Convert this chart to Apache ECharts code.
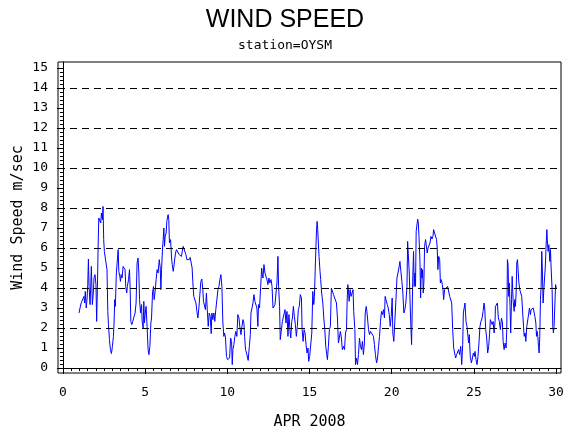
<!DOCTYPE html>
<html>
<head>
<meta charset="utf-8">
<script src="https://cdn.jsdelivr.net/npm/echarts@6/dist/echarts.min.js"></script>
<style>
html, body { margin: 0; padding: 0; background: #fff; }
#J_wind { width: 570px; height: 430px; }
</style>
</head>
<body>
<div id="J_wind"></div>
<script>
'use strict';

// [day of April, wind speed m/s]
var windApr1to7 = [
  [0.98,2.75],[1.04,3.0],[1.12,3.28],[1.22,3.33],[1.28,3.58],[1.32,3.25],[1.36,3.83],[1.42,3.0],[1.47,3.5],[1.51,4.17],
  [1.55,5.45],[1.59,4.08],[1.65,3.17],[1.69,4.08],[1.73,5.08],[1.79,3.17],[1.85,3.75],[1.89,4.5],[1.95,4.67],[2.01,4.17],
  [2.05,2.33],[2.10,4.08],[2.14,6.0],[2.18,7.5],[2.24,7.5],[2.30,7.25],[2.34,7.75],[2.40,7.42],[2.44,8.08],[2.48,6.42],
  [2.52,5.83],[2.58,5.75],[2.64,5.92],[2.68,4.92],[2.73,2.83],[2.77,2.17],[2.83,1.42],[2.89,0.92],[2.95,0.72],[3.01,1.08],
  [3.07,1.58],[3.11,2.25],[3.15,3.42],[3.19,3.08],[3.25,4.75],[3.32,5.5],[3.36,5.92],[3.40,4.83],[3.46,4.58],[3.50,4.33],
  [3.54,4.67],[3.60,4.5],[3.66,5.08],[3.72,5.17],[3.78,4.92],[3.82,4.08],[3.88,3.75],[3.92,4.08],[3.99,4.42],[4.05,4.92],
  [4.09,3.92],[4.13,2.33],[4.19,2.17],[4.25,2.33],[4.33,2.58],[4.39,2.75],[4.45,3.25],[4.51,5.25],[4.57,5.5],[4.62,4.75],
  [4.66,3.42],[4.72,2.75],[4.78,3.17],[4.82,2.33],[4.88,2.0],[4.92,3.33],[4.96,2.25],[5.00,2.67],[5.06,3.08],[5.12,2.08],
  [5.18,0.92],[5.23,0.67],[5.29,1.08],[5.35,2.25],[5.39,2.5],[5.45,3.75],[5.51,4.08],[5.55,3.42],[5.61,3.83],[5.67,4.42],
  [5.73,4.92],[5.79,4.75],[5.86,5.42],[5.92,5.0],[5.96,3.92],[6.00,4.92],[6.06,6.0],[6.10,6.42],[6.14,7.0],[6.18,6.08],
  [6.22,6.58],[6.28,6.75],[6.32,7.33],[6.36,7.42],[6.40,7.67],[6.44,7.42],[6.48,6.25],[6.55,6.42],[6.61,5.5],[6.65,5.17],
  [6.71,4.83],[6.75,5.08],[6.81,5.5],[6.85,5.75],[6.91,5.92],[6.97,6.0],[7.01,6.0],[7.07,5.67]
];
var windApr7to13 = [
  [7.11,5.63],[7.21,5.58],[7.31,6.08],[7.37,5.95],[7.44,5.92],[7.48,5.67],[7.54,5.42],[7.60,5.5],[7.68,5.42],[7.74,5.53],
  [7.80,5.62],[7.86,5.0],[7.90,4.33],[7.96,3.58],[8.02,3.67],[8.09,3.25],[8.15,2.83],[8.21,2.5],[8.27,3.0],[8.33,3.08],
  [8.39,4.33],[8.45,4.45],[8.51,3.92],[8.55,3.33],[8.61,3.42],[8.67,2.92],[8.73,3.75],[8.78,2.92],[8.84,2.08],[8.90,2.75],
  [8.96,2.58],[9.02,1.72],[9.06,2.75],[9.12,2.42],[9.18,2.75],[9.24,2.33],[9.30,2.92],[9.36,2.83],[9.43,3.92],[9.49,4.08],
  [9.55,4.42],[9.61,4.67],[9.67,4.08],[9.73,2.25],[9.79,1.58],[9.83,1.75],[9.89,1.5],[9.95,0.58],[10.01,0.42],[10.08,0.5],
  [10.14,0.5],[10.20,1.5],[10.26,1.33],[10.30,0.17],[10.34,0.92],[10.40,1.17],[10.46,1.58],[10.52,1.83],[10.58,1.58],[10.64,2.67],
  [10.71,2.5],[10.77,2.0],[10.83,1.67],[10.89,2.08],[10.95,2.42],[11.01,2.25],[11.05,1.58],[11.11,0.92],[11.17,0.75],[11.23,0.75],
  [11.27,0.38],[11.34,1.08],[11.40,1.67],[11.44,2.75],[11.50,2.83],[11.56,3.25],[11.62,3.67],[11.68,3.33],[11.74,3.25],[11.80,3.0],
  [11.86,2.08],[11.90,3.17],[11.96,3.0],[12.03,4.08],[12.09,5.0],[12.13,4.67],[12.17,4.5],[12.23,5.17],[12.29,4.75],[12.35,4.83],
  [12.41,4.42],[12.47,4.17],[12.53,4.5],[12.59,4.25],[12.66,4.42],[12.72,4.08],[12.78,3.0],[12.84,3.08],[12.90,3.17],[12.96,3.25],
  [13.02,4.25],[13.08,5.58],[13.12,4.08],[13.18,3.08],[13.22,1.42],[13.28,1.33],[13.35,2.33],[13.41,2.25],[13.47,2.42]
];
var windApr13to19 = [
  [13.51,2.92],[13.57,2.25],[13.63,2.83],[13.69,1.58],[13.75,2.67],[13.81,1.92],[13.86,1.5],[13.92,2.33],[13.96,2.5],[14.02,3.08],
  [14.08,2.58],[14.14,2.17],[14.20,1.58],[14.26,2.08],[14.32,2.92],[14.38,3.08],[14.44,3.67],[14.51,3.5],[14.55,1.92],[14.61,1.33],
  [14.67,1.92],[14.73,1.75],[14.79,1.17],[14.85,0.75],[14.91,1.0],[14.95,0.33],[15.01,0.58],[15.07,0.5],[15.14,1.75],[15.20,3.83],
  [15.26,3.17],[15.30,3.58],[15.36,5.25],[15.42,6.75],[15.46,7.33],[15.50,6.92],[15.54,7.0],[15.58,5.58],[15.64,4.83],[15.68,4.42],
  [15.74,3.75],[15.81,3.25],[15.87,2.5],[15.93,1.92],[15.99,1.08],[16.05,0.67],[16.09,0.42],[16.15,1.08],[16.21,1.92],[16.27,2.08],
  [16.33,4.0],[16.39,4.08],[16.46,3.67],[16.52,3.75],[16.58,3.58],[16.64,3.25],[16.70,2.5],[16.76,1.25],[16.82,1.33],[16.88,1.83],
  [16.94,1.5],[17.00,0.92],[17.06,1.08],[17.13,0.92],[17.19,1.75],[17.25,1.92],[17.29,3.33],[17.33,4.17],[17.37,3.92],[17.41,3.33],
  [17.47,3.92],[17.53,3.58],[17.59,3.75],[17.65,3.92],[17.69,2.83],[17.76,1.92],[17.80,0.17],[17.86,0.5],[17.92,0.17],[17.98,0.67],
  [18.04,1.5],[18.10,1.08],[18.16,0.92],[18.22,1.33],[18.28,0.67],[18.34,1.25],[18.39,2.75],[18.45,3.08],[18.49,2.83],[18.53,2.5],
  [18.59,1.92],[18.65,1.67],[18.71,1.83],[18.77,1.92],[18.83,1.75],[18.89,1.58],[18.95,1.17],[19.01,0.67],[19.08,0.25],[19.14,0.5],
  [19.20,1.08],[19.26,1.58],[19.32,2.33],[19.38,2.83],[19.44,2.67],[19.50,2.92],[19.56,2.5],[19.60,3.58],[19.66,3.5],[19.73,3.17],
  [19.79,3.0],[19.85,2.67]
];
var windApr19to26 = [
  [19.91,2.08],[19.97,2.58],[20.03,3.5],[20.07,1.75],[20.13,1.33],[20.19,2.33],[20.26,3.42],[20.32,4.5],[20.38,4.5],[20.44,5.0],
  [20.50,5.33],[20.56,4.83],[20.62,4.33],[20.68,3.75],[20.74,2.75],[20.80,2.92],[20.86,3.25],[20.93,4.08],[20.97,6.33],[21.03,6.25],
  [21.07,4.75],[21.13,3.0],[21.17,2.0],[21.21,1.17],[21.25,3.0],[21.29,4.75],[21.33,5.83],[21.37,4.08],[21.41,4.75],[21.45,4.08],
  [21.49,6.83],[21.53,6.83],[21.58,7.45],[21.62,7.25],[21.66,6.58],[21.72,5.33],[21.76,3.5],[21.80,5.0],[21.84,4.5],[21.88,4.92],
  [21.92,3.75],[21.96,4.33],[22.00,6.08],[22.06,6.42],[22.10,6.17],[22.16,5.75],[22.21,6.0],[22.27,6.0],[22.33,6.25],[22.39,6.58],
  [22.45,6.45],[22.51,6.58],[22.55,6.92],[22.61,6.75],[22.67,6.67],[22.73,6.42],[22.77,6.0],[22.81,4.92],[22.86,5.58],[22.92,5.42],
  [22.96,4.25],[23.02,4.42],[23.08,4.17],[23.12,3.92],[23.16,3.42],[23.22,3.92],[23.28,3.83],[23.34,3.92],[23.40,4.08],[23.46,4.17],
  [23.53,3.58],[23.59,3.5],[23.65,3.25],[23.71,1.92],[23.77,1.0],[23.83,0.75],[23.89,0.5],[23.95,0.67],[24.01,0.58],[24.07,0.92],
  [24.13,0.67],[24.20,1.08],[24.26,0.17],[24.32,1.17],[24.36,2.75],[24.42,2.83],[24.46,3.25],[24.52,2.33],[24.58,2.08],[24.64,1.58],
  [24.68,1.25],[24.72,1.67],[24.78,0.58],[24.85,0.25],[24.91,0.5],[24.97,0.75],[25.03,0.58],[25.07,0.83],[25.13,0.42],[25.19,0.17],
  [25.25,0.58],[25.31,1.25],[25.37,2.08],[25.43,2.33],[25.50,2.5],[25.56,2.83],[25.62,3.25],[25.66,3.0],[25.72,1.92],[25.78,1.5],
  [25.84,0.75],[25.90,1.08],[25.96,1.75],[26.00,2.42],[26.06,2.33],[26.11,2.17],[26.17,2.33],[26.23,1.75],[26.29,2.33]
];
var windApr26to30 = [
  [26.31,3.08],[26.37,3.17],[26.43,3.25],[26.49,2.5],[26.55,2.33],[26.61,1.92],[26.68,2.5],[26.74,2.25],[26.78,1.33],[26.84,0.92],
  [26.90,1.25],[26.96,1.0],[27.00,1.92],[27.04,5.42],[27.08,5.17],[27.12,3.58],[27.16,4.25],[27.20,3.08],[27.24,1.75],[27.29,3.42],
  [27.33,4.58],[27.39,3.33],[27.45,2.83],[27.49,3.42],[27.53,3.08],[27.57,3.75],[27.61,5.25],[27.65,5.42],[27.69,4.92],[27.73,4.33],
  [27.79,3.92],[27.85,3.75],[27.91,3.58],[27.98,3.5],[28.02,2.08],[28.06,1.58],[28.12,1.75],[28.16,1.33],[28.22,2.08],[28.28,2.17],
  [28.34,2.75],[28.38,3.0],[28.44,2.67],[28.48,2.92],[28.54,2.83],[28.61,3.0],[28.67,3.08],[28.71,2.58],[28.77,2.25],[28.81,1.58],
  [28.85,1.83],[28.89,1.58],[28.93,1.08],[28.97,0.75],[29.01,1.58],[29.05,3.42],[29.09,4.08],[29.13,5.83],[29.17,4.75],[29.21,3.25],
  [29.28,4.25],[29.34,5.0],[29.40,6.25],[29.44,6.92],[29.48,6.17],[29.52,5.83],[29.56,6.17],[29.62,5.33],[29.66,5.92],[29.70,5.0],
  [29.76,3.92],[29.80,2.08],[29.84,1.75],[29.88,2.08],[29.93,3.25],[29.97,4.17],[30.01,4.0]
];

var dayTicks = [0, 5, 10, 15, 20, 25, 30];
var speedTicks = [0, 1, 2, 3, 4, 5, 6, 7, 8, 9, 10, 11, 12, 13, 14, 15];
var gridSpeeds = [0, 2, 4, 6, 8, 10, 12, 14];

var windChart = {
  font: 'DejaVu Sans Mono',
  minorTicks: function(from, to, step){
    var out = [];
    for (var i = 0; from + i * step <= to + 1e-9; i++) {
      out.push(Math.round((from + i * step) * 100) / 100);
    }
    return out;
  },
  draw: function(){
    var me = this;
    var chart = echarts.init(document.getElementById('J_wind'));
    var windData = windApr1to7.concat(windApr7to13, windApr13to19, windApr19to26, windApr26to30);
    var black = { color: '#000', width: 1 };
    var tickText = { show: true, fontFamily: me.font, fontSize: 13, color: '#000' };

    var option = {
      animation: false,
      title: {
        text: 'WIND SPEED',
        subtext: 'station=OYSM',
        left: 'center',
        top: 8,
        padding: 0,
        itemGap: 6,
        textStyle: { fontFamily: 'Liberation Sans', fontSize: 25, fontWeight: 'normal', color: '#000' },
        subtextStyle: { fontFamily: me.font, fontSize: 13, color: '#000' }
      },
      grid: {
        left: 58, right: 9, top: 62, bottom: 57,
        outerBoundsMode: 'none',
        containLabel: false,
        show: true, borderColor: '#000', borderWidth: 1
      },
      xAxis: [
        {
          type: 'value', min: -0.3, max: 30.3,
          name: 'APR 2008', nameLocation: 'middle', nameGap: 42,
          nameMoveOverlap: false,
          nameTextStyle: { fontFamily: me.font, fontSize: 15, color: '#000' },
          axisLine: { show: true, lineStyle: black },
          axisTick: { show: true, length: 6, customValues: dayTicks, lineStyle: black },
          axisLabel: Object.assign({ customValues: dayTicks, margin: 13 }, tickText),
          splitLine: { show: false }
        },
        {
          type: 'value', min: -0.3, max: 30.3, position: 'bottom',
          axisLine: { show: false },
          axisTick: { show: true, length: 3, customValues: me.minorTicks(0, 30, 0.5), lineStyle: black },
          axisLabel: { show: false },
          splitLine: { show: false }
        }
      ],
      yAxis: [
        {
          type: 'value', min: -0.25, max: 15.3,
          name: 'Wind Speed m/sec', nameLocation: 'middle', nameGap: 32,
          nameMoveOverlap: false,
          nameTextStyle: { fontFamily: me.font, fontSize: 15, color: '#000' },
          axisLine: { show: true, lineStyle: black },
          axisTick: { show: true, length: 6, customValues: speedTicks, lineStyle: black },
          axisLabel: Object.assign({ customValues: speedTicks, margin: 10 }, tickText),
          splitLine: { show: false }
        },
        {
          type: 'value', min: -0.25, max: 15.3, position: 'left',
          axisLine: { show: false },
          axisTick: { show: true, length: 3, customValues: me.minorTicks(0, 15, 0.2), lineStyle: black },
          axisLabel: { show: false },
          splitLine: { show: false }
        }
      ],
      series: [
        {
          name: 'wind speed',
          type: 'line',
          xAxisIndex: 0,
          yAxisIndex: 0,
          data: windData,
          showSymbol: false,
          lineStyle: { color: '#0000ff', width: 1 },
          itemStyle: { color: '#0000ff' },
          markLine: {
            silent: true,
            symbol: ['none', 'none'],
            label: { show: false },
            lineStyle: { color: '#000', width: 1, type: [7, 5] },
            data: gridSpeeds.map(function(v){ return { yAxis: v }; })
          }
        }
      ]
    };
    chart.setOption(option);
  }
};

windChart.draw();
</script>
</body>
</html>
